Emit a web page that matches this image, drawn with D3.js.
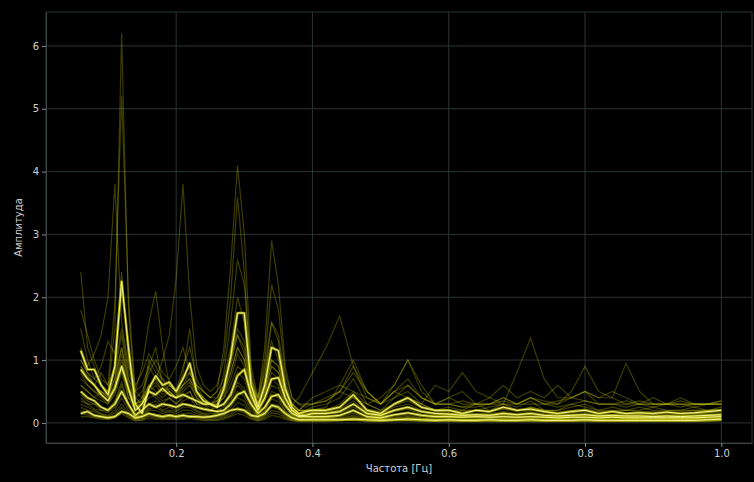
<!DOCTYPE html>
<html>
<head>
<meta charset="utf-8">
<script src="https://cdn.jsdelivr.net/npm/d3@7"></script>
<style>
  body { margin: 0; background: #000; }
  svg { display: block; }
  text { font-family: "DejaVu Sans", sans-serif; }
</style>
</head>
<body>
<svg id="chart" width="754" height="482"></svg>
<script>
// frequency grid, Hz
var freq = [0.06,0.07,0.08,0.09,0.10,0.11,0.12,0.13,0.14,0.15,0.16,0.17,0.18,0.19,0.20,
  0.21,0.22,0.23,0.24,0.25,0.26,0.27,0.28,0.29,0.30,0.31,0.32,0.33,0.34,0.35,0.36,0.37,0.38,0.39,0.40,
  0.42,0.44,0.46,0.48,0.50,0.52,0.54,0.56,0.58,0.60,0.62,0.64,0.66,0.68,0.70,0.72,0.74,0.76,0.78,0.80,
  0.82,0.84,0.86,0.88,0.90,0.92,0.94,0.96,0.98,1.00];

var xTicks = [0.2, 0.4, 0.6, 0.8, 1.0];
var yTicks = [0, 1, 2, 3, 4, 5, 6];

// individual spectra (faint)
var spec1 = [2.4,1.2,0.9,0.6,0.5,1.5,6.2,1.8,0.4,0.3,0.9,1.2,0.6,0.5,0.4,0.8,1.5,0.6,0.4,0.3,0.3,0.8,1.6,2.6,2.2,0.8,0.3,0.9,1.6,1.4,0.7,0.3,0.2,0.2,0.25,
  0.3,0.4,0.7,0.3,0.2,0.4,0.5,0.3,0.2,0.25,0.2,0.3,0.2,0.3,0.25,0.35,0.2,0.2,0.25,0.3,0.2,0.25,0.2,0.2,0.25,0.2,0.2,0.25,0.2,0.25];
var spec2 = [1.8,1.4,1.0,0.7,0.6,1.9,5.2,2.0,0.5,0.4,1.0,0.8,0.7,0.6,0.5,0.9,1.2,0.7,0.5,0.4,0.5,1.2,2.5,4.1,3.0,0.9,0.4,1.0,2.2,1.8,0.8,0.4,0.3,0.25,0.3,
  0.35,0.5,0.9,0.4,0.3,0.5,0.7,0.4,0.3,0.3,0.25,0.3,0.3,0.35,0.3,0.4,0.3,0.25,0.3,0.35,0.3,0.3,0.25,0.3,0.3,0.3,0.25,0.3,0.3,0.35];
var spec3 = [1.2,0.9,1.1,1.4,2.0,3.8,1.6,0.9,0.6,0.8,1.1,0.9,0.7,0.5,0.4,0.6,0.7,0.5,0.4,0.3,0.4,0.6,1.0,1.4,1.1,0.6,0.3,0.5,0.9,0.8,0.5,0.3,0.2,0.2,0.2,
  0.25,0.6,1.0,0.5,0.3,0.5,0.6,0.4,0.3,0.3,0.25,0.25,0.3,0.4,0.3,0.3,0.3,0.35,0.4,0.5,0.3,0.3,0.35,0.3,0.25,0.3,0.3,0.25,0.3,0.3];
var spec4 = [0.9,0.7,0.6,0.8,0.6,0.9,1.5,0.8,0.5,0.6,0.9,0.7,1.0,1.4,2.3,3.8,2.0,0.9,0.6,0.5,0.6,1.0,2.0,3.6,2.4,0.7,0.4,0.8,1.3,1.0,0.5,0.3,0.2,0.2,0.2,
  0.2,0.3,0.5,0.3,0.2,0.3,0.4,0.3,0.2,0.2,0.2,0.2,0.25,0.3,0.2,0.25,0.2,0.2,0.3,0.25,0.2,0.2,0.2,0.25,0.2,0.2,0.2,0.2,0.2,0.2];
var spec5 = [1.0,0.8,0.6,0.5,0.4,0.7,1.2,0.7,0.5,0.9,1.6,2.1,1.2,0.6,0.5,0.6,0.8,0.6,0.5,0.4,0.4,0.6,1.0,1.5,1.3,0.6,0.4,1.2,2.9,2.2,0.9,0.4,0.3,0.3,0.3,
  0.35,0.5,0.8,0.5,0.3,0.6,1.0,0.6,0.3,0.3,0.35,0.3,0.3,0.4,0.3,0.4,0.35,0.3,0.4,0.35,0.3,0.3,0.3,0.35,0.3,0.3,0.3,0.3,0.3,0.35];
var spec6 = [0.6,0.5,0.4,0.5,0.4,0.6,1.0,0.5,0.3,0.4,0.6,0.5,0.4,0.5,0.4,0.5,0.6,0.4,0.3,0.3,0.3,0.5,0.8,1.2,1.0,0.5,0.3,0.6,1.0,0.9,0.5,0.3,0.4,0.6,0.8,
  1.2,1.7,0.9,0.5,0.3,0.4,0.6,0.4,0.3,0.4,0.3,0.3,0.4,0.3,0.8,1.35,0.7,0.4,0.4,0.5,0.4,0.4,0.3,0.3,0.3,0.3,0.3,0.3,0.3,0.3];
var spec7 = [0.8,0.6,0.5,0.4,0.3,0.5,0.9,0.4,0.3,0.3,0.5,0.4,0.3,0.4,0.3,0.4,0.5,0.3,0.3,0.2,0.3,0.4,0.6,0.9,0.8,0.4,0.2,0.4,0.7,0.6,0.3,0.2,0.2,0.3,0.3,
  0.4,0.5,0.4,0.3,0.4,0.6,1.0,0.5,0.3,0.4,0.5,0.3,0.3,0.3,0.3,0.4,0.3,0.3,0.5,0.9,0.5,0.4,0.95,0.5,0.3,0.3,0.35,0.3,0.3,0.3];
var spec8 = [1.5,1.0,0.7,0.9,1.3,1.1,2.4,1.0,0.4,0.5,0.8,1.0,0.8,0.7,0.9,1.2,0.8,0.6,0.5,0.4,0.5,0.7,1.2,2.0,1.6,0.7,0.3,0.7,1.6,1.3,0.6,0.3,0.2,0.3,0.4,
  0.5,0.6,0.5,0.4,0.3,0.5,0.4,0.3,0.6,0.5,0.8,0.5,0.4,0.6,0.4,0.5,0.4,0.6,0.4,0.5,0.4,0.5,0.4,0.3,0.4,0.3,0.4,0.3,0.3,0.3];
var spec9 = [0.4,0.3,0.3,0.2,0.2,0.3,0.6,0.3,0.1,0.15,0.25,0.3,0.2,0.25,0.2,0.3,0.3,0.2,0.15,0.15,0.15,0.2,0.35,0.6,0.5,0.25,0.1,0.2,0.45,0.4,0.2,0.1,0.08,0.08,0.08,
  0.08,0.1,0.15,0.08,0.06,0.1,0.12,0.08,0.06,0.06,0.05,0.06,0.06,0.07,0.06,0.07,0.06,0.05,0.06,0.06,0.05,0.05,0.05,0.06,0.05,0.05,0.05,0.06,0.06,0.07];
var spec10 = [0.3,0.25,0.2,0.15,0.12,0.2,0.4,0.2,0.08,0.1,0.2,0.2,0.15,0.18,0.15,0.2,0.2,0.15,0.12,0.1,0.1,0.15,0.25,0.4,0.35,0.15,0.08,0.15,0.3,0.28,0.15,0.08,0.05,0.05,0.06,
  0.06,0.07,0.1,0.06,0.05,0.07,0.09,0.06,0.05,0.05,0.04,0.05,0.05,0.05,0.05,0.06,0.05,0.04,0.05,0.05,0.04,0.04,0.04,0.05,0.04,0.04,0.05,0.05,0.05,0.06];
var spec11 = [0.6,0.5,0.4,0.35,0.3,0.45,0.8,0.4,0.2,0.25,0.4,0.45,0.35,0.4,0.3,0.45,0.5,0.3,0.25,0.2,0.25,0.3,0.5,0.8,0.7,0.35,0.15,0.35,0.6,0.55,0.3,0.15,0.12,0.12,0.14,
  0.14,0.16,0.25,0.13,0.1,0.18,0.22,0.14,0.11,0.12,0.1,0.11,0.11,0.13,0.11,0.14,0.12,0.1,0.11,0.12,0.1,0.1,0.11,0.1,0.1,0.1,0.1,0.11,0.11,0.13];
var spec12 = [0.2,0.15,0.12,0.1,0.08,0.12,0.25,0.12,0.05,0.06,0.12,0.1,0.08,0.1,0.08,0.1,0.12,0.08,0.07,0.06,0.07,0.1,0.15,0.25,0.2,0.1,0.05,0.1,0.2,0.18,0.1,0.05,0.03,0.03,0.03,
  0.03,0.04,0.05,0.03,0.03,0.04,0.05,0.03,0.03,0.03,0.03,0.03,0.03,0.03,0.03,0.03,0.03,0.03,0.03,0.03,0.03,0.03,0.03,0.03,0.03,0.03,0.03,0.03,0.03,0.04];
var spec13 = [1.0,0.8,0.7,0.6,0.5,0.8,1.4,0.7,0.3,0.35,0.6,0.7,0.5,0.6,0.5,0.7,0.8,0.5,0.4,0.3,0.35,0.5,0.9,1.4,1.2,0.5,0.25,0.55,1.0,0.9,0.45,0.2,0.15,0.15,0.18,
  0.18,0.22,0.35,0.18,0.14,0.25,0.3,0.2,0.15,0.16,0.14,0.15,0.15,0.18,0.15,0.2,0.18,0.14,0.15,0.16,0.14,0.14,0.15,0.14,0.14,0.13,0.14,0.15,0.15,0.17];
var spec14 = [0.1,0.1,0.08,0.06,0.05,0.08,0.15,0.08,0.03,0.04,0.07,0.06,0.05,0.06,0.05,0.06,0.07,0.05,0.04,0.04,0.04,0.06,0.1,0.15,0.12,0.06,0.03,0.06,0.12,0.1,0.06,0.03,0.02,0.02,0.02,
  0.02,0.03,0.04,0.02,0.02,0.03,0.03,0.02,0.02,0.02,0.02,0.02,0.02,0.02,0.02,0.02,0.02,0.02,0.02,0.02,0.02,0.02,0.02,0.02,0.02,0.02,0.02,0.02,0.02,0.03];
var spec15 = [0.7,0.6,0.5,0.45,0.35,0.6,1.1,0.5,0.25,0.3,0.5,0.6,0.45,0.5,0.4,0.55,0.65,0.4,0.3,0.25,0.3,0.4,0.7,1.1,0.9,0.4,0.2,0.45,0.8,0.7,0.35,0.18,0.14,0.15,0.16,
  0.16,0.2,0.3,0.16,0.12,0.2,0.26,0.17,0.13,0.14,0.12,0.13,0.13,0.16,0.13,0.17,0.15,0.12,0.13,0.14,0.12,0.12,0.13,0.12,0.12,0.12,0.12,0.13,0.13,0.15];
var spec16 = [0.25,0.2,0.18,0.14,0.1,0.16,0.3,0.16,0.06,0.08,0.15,0.14,0.12,0.14,0.12,0.15,0.16,0.12,0.1,0.08,0.09,0.12,0.2,0.32,0.28,0.12,0.06,0.12,0.25,0.22,0.12,0.06,0.04,0.04,0.05,
  0.05,0.06,0.08,0.05,0.04,0.06,0.07,0.05,0.04,0.04,0.04,0.04,0.04,0.05,0.04,0.05,0.04,0.04,0.04,0.05,0.04,0.04,0.04,0.04,0.04,0.04,0.04,0.04,0.05,0.05];
var spec17 = [0.45,0.35,0.3,0.25,0.22,0.35,0.65,0.3,0.15,0.2,0.3,0.35,0.25,0.3,0.25,0.35,0.4,0.25,0.2,0.18,0.2,0.25,0.4,0.65,0.55,0.3,0.12,0.25,0.5,0.45,0.25,0.12,0.1,0.1,0.1,
  0.1,0.12,0.18,0.1,0.08,0.12,0.15,0.1,0.08,0.09,0.08,0.08,0.09,0.1,0.08,0.1,0.09,0.08,0.08,0.09,0.08,0.08,0.08,0.08,0.08,0.08,0.08,0.09,0.09,0.1];
var spec18 = [0.35,0.3,0.22,0.2,0.16,0.25,0.5,0.25,0.1,0.12,0.22,0.25,0.18,0.2,0.18,0.25,0.25,0.18,0.14,0.12,0.13,0.18,0.3,0.5,0.42,0.2,0.1,0.18,0.38,0.34,0.18,0.1,0.07,0.07,0.07,
  0.07,0.08,0.12,0.07,0.06,0.08,0.1,0.07,0.06,0.06,0.06,0.06,0.06,0.07,0.06,0.07,0.06,0.06,0.06,0.06,0.06,0.06,0.06,0.06,0.06,0.06,0.06,0.06,0.07,0.08];
var spec19 = [0.15,0.12,0.1,0.08,0.07,0.1,0.2,0.1,0.04,0.05,0.1,0.08,0.07,0.08,0.07,0.08,0.1,0.07,0.05,0.05,0.05,0.08,0.12,0.2,0.16,0.08,0.04,0.08,0.16,0.14,0.08,0.04,0.03,0.03,0.03,
  0.03,0.03,0.05,0.03,0.03,0.03,0.04,0.03,0.03,0.03,0.03,0.03,0.03,0.03,0.03,0.03,0.03,0.03,0.03,0.03,0.03,0.03,0.03,0.03,0.03,0.03,0.03,0.03,0.03,0.04];
var spec20 = [0.9,0.75,0.6,0.5,0.45,0.7,1.2,0.6,0.3,0.35,0.55,0.65,0.5,0.55,0.45,0.6,0.7,0.45,0.35,0.3,0.35,0.45,0.8,1.2,1.0,0.45,0.22,0.5,0.9,0.8,0.4,0.2,0.17,0.2,0.22,
  0.22,0.26,0.4,0.22,0.18,0.28,0.35,0.24,0.18,0.2,0.17,0.2,0.18,0.22,0.18,0.25,0.2,0.17,0.2,0.22,0.18,0.18,0.2,0.18,0.18,0.17,0.18,0.2,0.2,0.22];

// summary curves (bold)
var boldA = [1.15,0.85,0.85,0.6,0.45,0.9,2.25,1.2,0.3,0.15,0.55,0.75,0.6,0.65,0.5,0.7,0.95,0.5,0.35,0.3,0.25,0.55,1.05,1.75,1.75,0.6,0.25,0.6,1.2,1.15,0.55,0.25,0.15,0.18,0.2,
  0.2,0.25,0.45,0.2,0.15,0.3,0.4,0.25,0.2,0.2,0.15,0.2,0.18,0.25,0.2,0.22,0.18,0.15,0.18,0.2,0.15,0.18,0.15,0.16,0.15,0.17,0.15,0.16,0.18,0.2];
var boldB = [0.85,0.7,0.6,0.45,0.35,0.55,0.9,0.55,0.2,0.3,0.5,0.45,0.55,0.45,0.4,0.45,0.4,0.35,0.3,0.3,0.25,0.3,0.45,0.75,0.85,0.45,0.2,0.4,0.7,0.72,0.4,0.2,0.12,0.12,0.15,
  0.15,0.18,0.3,0.15,0.12,0.2,0.25,0.18,0.15,0.14,0.12,0.13,0.12,0.15,0.13,0.15,0.12,0.11,0.12,0.13,0.11,0.12,0.11,0.11,0.1,0.11,0.1,0.11,0.12,0.13];
var boldC = [0.5,0.4,0.35,0.25,0.2,0.3,0.5,0.3,0.12,0.2,0.3,0.25,0.3,0.28,0.25,0.3,0.28,0.25,0.22,0.2,0.18,0.2,0.3,0.45,0.5,0.3,0.15,0.25,0.42,0.45,0.28,0.15,0.1,0.1,0.1,
  0.1,0.12,0.2,0.1,0.08,0.13,0.16,0.12,0.1,0.1,0.09,0.1,0.09,0.1,0.09,0.1,0.09,0.08,0.09,0.09,0.08,0.09,0.08,0.08,0.08,0.08,0.08,0.08,0.09,0.1];
var boldD = [0.15,0.18,0.12,0.1,0.08,0.1,0.18,0.15,0.08,0.1,0.15,0.12,0.1,0.12,0.1,0.12,0.1,0.1,0.09,0.1,0.12,0.15,0.2,0.22,0.2,0.12,0.1,0.15,0.28,0.25,0.15,0.08,0.05,0.05,0.05,
  0.05,0.05,0.06,0.05,0.04,0.05,0.06,0.05,0.04,0.05,0.04,0.04,0.05,0.04,0.04,0.05,0.04,0.04,0.04,0.05,0.04,0.04,0.04,0.04,0.04,0.04,0.04,0.04,0.05,0.06];

var faint = [spec1, spec2, spec3, spec4, spec5, spec6, spec7, spec8, spec9, spec10,
  spec11, spec12, spec13, spec14, spec15, spec16, spec17, spec18, spec19, spec20];
var bold = [boldA, boldB, boldC, boldD];

var svg = d3.select('#chart');
var mLeft = 46, mRight = 752, mTop = 12, mBottom = 443;

var x = d3.scaleLinear().domain([0.009, 1.045]).range([mLeft, mRight]);
var y = d3.scaleLinear().domain([-0.32, 6.54]).range([mBottom, mTop]);

svg.append('rect')
  .attr('width', 754).attr('height', 482)
  .attr('fill', '#000');

// grid
svg.append('g').selectAll('line').data(yTicks).join('line')
  .attr('x1', mLeft).attr('x2', mRight)
  .attr('y1', d => y(d)).attr('y2', d => y(d))
  .attr('stroke', '#2a3434').attr('stroke-width', 1);
svg.append('g').selectAll('line').data(xTicks).join('line')
  .attr('y1', mTop).attr('y2', mBottom)
  .attr('x1', d => x(d)).attr('x2', d => x(d))
  .attr('stroke', '#2a3434').attr('stroke-width', 1);

svg.append('rect')
  .attr('x', mLeft).attr('y', mTop)
  .attr('width', mRight - mLeft).attr('height', mBottom - mTop)
  .attr('fill', 'none').attr('stroke', '#2a3434');

var line = d3.line()
  .x((d, i) => x(freq[i]))
  .y(d => y(d));

// faint spectra
svg.append('g').selectAll('path').data(faint).join('path')
  .attr('d', line)
  .attr('fill', 'none')
  .attr('stroke', '#d6d600')
  .attr('stroke-opacity', 0.28)
  .attr('stroke-width', 1.2);

// bold curves: glow + core
svg.append('g').selectAll('path').data(bold).join('path')
  .attr('d', line)
  .attr('fill', 'none')
  .attr('stroke', '#cccc00')
  .attr('stroke-opacity', 0.7)
  .attr('stroke-width', 2.6)
  .attr('stroke-linejoin', 'round');
svg.append('g').selectAll('path').data(bold).join('path')
  .attr('d', line)
  .attr('fill', 'none')
  .attr('stroke', '#f6f69a')
  .attr('stroke-width', 1)
  .attr('stroke-linejoin', 'round');

// axes
var xAxis = svg.append('g')
  .attr('transform', 'translate(0,' + mBottom + ')')
  .call(d3.axisBottom(x).tickValues(xTicks).tickFormat(d3.format('.1f')).tickSize(4).tickSizeOuter(0));
var yAxis = svg.append('g')
  .attr('transform', 'translate(' + mLeft + ',0)')
  .call(d3.axisLeft(y).tickValues(yTicks).tickFormat(d3.format('d')).tickSize(4).tickSizeOuter(0));

[xAxis, yAxis].forEach(function(g){
  g.select('.domain').attr('stroke', '#3c4646');
  g.selectAll('.tick line').attr('stroke', '#8a8a8a');
  g.selectAll('.tick text').attr('fill', '#cfcfcf').style('font-size', '10px');
});

svg.append('text')
  .attr('x', (mLeft + mRight) / 2).attr('y', 472)
  .attr('text-anchor', 'middle')
  .attr('fill', '#cfcfcf').style('font-size', '10px')
  .text('Частота [Гц]');

svg.append('text')
  .attr('transform', 'translate(22,' + ((mTop + mBottom) / 2) + ') rotate(-90)')
  .attr('text-anchor', 'middle')
  .attr('fill', '#cfcfcf').style('font-size', '10px')
  .text('Амплитуда');
</script>
</body>
</html>
